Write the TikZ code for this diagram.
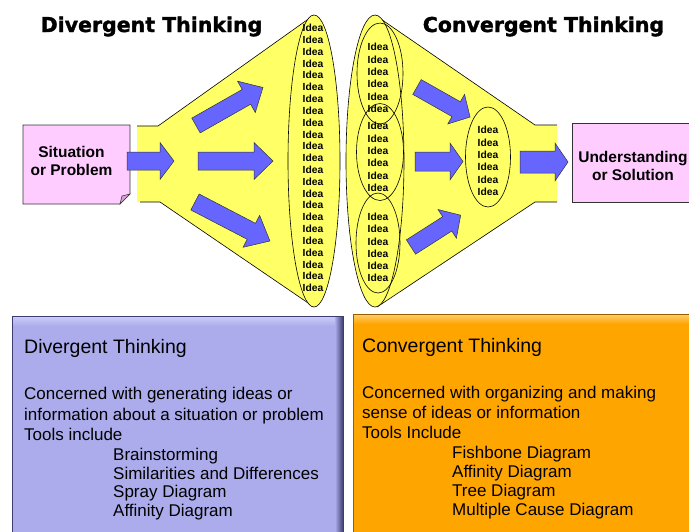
\documentclass[tikz,border=0pt]{standalone}
\usepackage{fontspec}
\setmainfont{Liberation Sans}
\newfontfamily\titlefont[BoldFeatures={FakeBold=1.6}]{DejaVu Sans}
\definecolor{yfill}{RGB}{255,255,102}
\definecolor{ablue}{RGB}{102,102,255}
\definecolor{pinkf}{RGB}{255,204,255}
\definecolor{pinkd}{RGB}{215,160,215}
\definecolor{lav}{RGB}{172,172,236}
\definecolor{lavlight}{RGB}{205,205,248}
\definecolor{lavdark}{RGB}{60,60,110}
\definecolor{orng}{RGB}{255,165,0}
\definecolor{orlight}{RGB}{255,205,110}
\definecolor{ordark}{RGB}{150,95,0}
\newcommand\blockarrow[7]{%
  \begin{scope}[shift={(#1,#2)},rotate=#3]
    \draw[barrow] (0,-#6) -- ({#4-#5},-#6) -- ({#4-#5},-#7) -- (#4,0)
      -- ({#4-#5},#7) -- ({#4-#5},#6) -- (0,#6) -- cycle;
  \end{scope}}
\begin{document}
\begin{tikzpicture}[x=1pt,y=-1pt,
  barrow/.style={fill=ablue,draw=black!80,line width=0.5pt},
  outl/.style={draw=black,line width=0.6pt},
  idea/.style={font=\bfseries\fontsize{10.3}{11}\selectfont,inner sep=0pt},
  bigtitle/.style={font=\titlefont\bfseries\fontsize{20.5}{24}\selectfont,inner sep=0pt,anchor=base},
  boxtext/.style={font=\fontsize{17}{20}\selectfont,inner sep=0pt,anchor=base west},
  boxtitle/.style={font=\fontsize{19.5}{22}\selectfont,inner sep=0pt,anchor=base west},
  sbox/.style={font=\bfseries\fontsize{15.5}{18}\selectfont,inner sep=0pt,anchor=base}
]
\useasboundingbox (0,0) rectangle (689,531);

% titles
\node[bigtitle] (divt) at (151.5,32) {Divergent Thinking};
\node[bigtitle] (cont) at (543.5,32) {Convergent Thinking};

% ---------- left funnel ----------
\fill[yfill] (137,126) -- (158,126) -- (314,15) -- (314,307) -- (160,202) -- (137,202) -- cycle;
\draw[outl] (137,126) -- (158,126) -- (314,15);
\draw[outl] (140,202) -- (160,202) -- (314,307);
\draw[outl,fill=yfill] (314,161) ellipse [x radius=26, y radius=146];
\foreach \i in {0,...,22} \node[idea] (L\i) at (313,{28+\i*11.82}) {Idea};

% ---------- right funnel ----------
\fill[yfill] (375,15) -- (535,125) -- (557,125) -- (557,202) -- (535,202) -- (377,307) -- cycle;
\draw[outl] (375,15) -- (535,125) -- (557,125);
\draw[outl] (377,307) -- (535,202) -- (557,202);
\draw[outl,fill=yfill] (375,161) ellipse [x radius=29, y radius=146];
\draw[outl] (380,73.5) ellipse [x radius=23, y radius=50.5];
\draw[outl] (380,152) ellipse [x radius=23.5, y radius=48.5];
\draw[outl] (378,243) ellipse [x radius=22, y radius=50];
\foreach \i in {0,...,5} {
  \node[idea] (RT\i) at (378,{47+\i*12.4}) {Idea};
  \node[idea] (RM\i) at (378,{126+\i*12.4}) {Idea};
  \node[idea] (RB\i) at (378,{217+\i*12.2}) {Idea};
}
\draw[outl] (488,157) ellipse [x radius=22.5, y radius=50];
\foreach \i in {0,...,5} \node[idea] (C\i) at (488,{130+\i*12.4}) {Idea};

% ---------- situation box ----------
\draw[draw=black!80,fill=pinkf,line width=0.6pt] (23,125) -- (130,125) -- (130,194) -- (120,204) -- (23,204) -- cycle;
\draw[draw=black!80,fill=pinkd,line width=0.5pt] (130,194) -- (120,204) -- (122,196) -- cycle;
\node[sbox] (sit1) at (71.5,157) {Situation};
\node[sbox] (sit2) at (71.5,175) {or Problem};

% ---------- understanding box ----------
\draw[draw=black!80,fill=pinkf,line width=0.6pt] (572,123) rectangle (705,202);
\node[sbox] (und1) at (633,162) {Understanding};
\node[sbox] (und2) at (633,180) {or Solution};

% ---------- arrows ----------
\blockarrow{127}{161}{0}{47}{14}{9}{18.5}
\blockarrow{198}{161}{0}{75}{19}{9}{18.5}
\blockarrow{196}{125.5}{29.6}{77}{19}{8.5}{18}
\blockarrow{195}{202}{-27.5}{84.5}{21}{9}{18}
\blockarrow{417}{87}{-29.5}{61}{16}{8.5}{17}
\blockarrow{415}{161.5}{0}{48}{13}{9.5}{18.5}
\blockarrow{411}{247}{32.6}{59}{16}{8.5}{17}
\blockarrow{520}{162}{0}{48}{13}{11}{19}

% ---------- bottom left box ----------
\fill[lav] (12,316) rectangle (343,540);
\shade[top color=lavlight,bottom color=lav] (12,316) rectangle (343,326);
\shade[left color=lav,right color=lavdark] (335,316) rectangle (343,540);
\draw[draw=lavdark,line width=0.8pt] (12,540) -- (12,316) -- (343,316) -- (343,540);
\node[boxtitle] (dt) at (24,353) {Divergent Thinking};
\node[boxtext] (d1) at (24,399) {Concerned with generating ideas or};
\node[boxtext] (d2) at (24,420) {information about a situation or problem};
\node[boxtext] (d3) at (24,440) {Tools include};
\node[boxtext] (d4) at (113,460) {Brainstorming};
\node[boxtext] (d5) at (113,479) {Similarities and Differences};
\node[boxtext] (d6) at (113,497) {Spray Diagram};
\node[boxtext] (d7) at (113,516) {Affinity Diagram};

% ---------- bottom right box ----------
\fill[orng] (353,314) rectangle (700,540);
\shade[top color=orlight,bottom color=orng] (353,314) rectangle (700,324);
\draw[draw=ordark,line width=0.8pt] (353,540) -- (353,314) -- (700,314);
\node[boxtitle] (ct) at (362,352) {Convergent Thinking};
\node[boxtext] (c1) at (362,398) {Concerned with organizing and making};
\node[boxtext] (c2) at (362,418) {sense of ideas or information};
\node[boxtext] (c3) at (362,438) {Tools Include};
\node[boxtext] (c4) at (452,458) {Fishbone Diagram};
\node[boxtext] (c5) at (452,477) {Affinity Diagram};
\node[boxtext] (c6) at (452,496) {Tree Diagram};
\node[boxtext] (c7) at (452,515) {Multiple Cause Diagram};
\end{tikzpicture}
\end{document}
